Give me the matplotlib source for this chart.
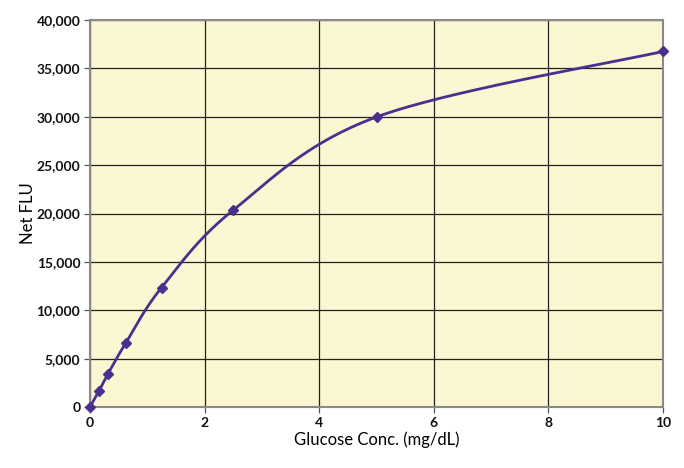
import matplotlib
matplotlib.use("Agg")
import matplotlib.pyplot as plt
import numpy as np

conc = [0, 0.156, 0.3125, 0.625, 1.25, 2.5, 5, 10]
flu = [0, 1650, 3420, 6620, 12350, 20350, 29980, 36750]
xticks = [0, 2, 4, 6, 8, 10]
yticks = [0, 5000, 10000, 15000, 20000, 25000, 30000, 35000, 40000]

plt.rcParams['font.family'] = ['Lato', 'DejaVu Sans']

fig = plt.figure(figsize=(6.84, 4.68), dpi=100)
ax = fig.add_axes([90/684, 61/468, 573/684, 387/468])
ax.set_facecolor('#FAF7D2')
ax.set_xlim(0, 10)
ax.set_ylim(0, 40000)

# Excel-style smoothed line (Catmull-Rom Bezier) in normalized space
px = np.array(conc) / 10.0
py = np.array(flu) / 40000.0
n = len(px)
cx, cy = [], []
for i in range(n - 1):
    p0 = (px[max(i-1, 0)], py[max(i-1, 0)])
    p1 = (px[i], py[i])
    p2 = (px[i+1], py[i+1])
    p3 = (px[min(i+2, n-1)], py[min(i+2, n-1)])
    c1 = (p1[0] + (p2[0]-p0[0])/6, p1[1] + (p2[1]-p0[1])/6)
    c2 = (p2[0] - (p3[0]-p1[0])/6, p2[1] - (p3[1]-p1[1])/6)
    t = np.linspace(0, 1, 40)
    bx = (1-t)**3*p1[0] + 3*(1-t)**2*t*c1[0] + 3*(1-t)*t**2*c2[0] + t**3*p2[0]
    by = (1-t)**3*p1[1] + 3*(1-t)**2*t*c1[1] + 3*(1-t)*t**2*c2[1] + t**3*p2[1]
    cx.extend(bx); cy.extend(by)
ax.plot(np.array(cx)*10, np.array(cy)*40000, color='#4B2F8E', lw=2, zorder=3, clip_on=False)
ax.plot(conc, flu, linestyle='none', marker='D', ms=5, color='#4B2F8E', zorder=4, clip_on=False)

ax.set_xticks(xticks)
ax.set_yticks(yticks)
ax.set_yticklabels([f"{v:,}" for v in yticks])
ax.grid(True, color='#222222', lw=0.9)
ax.set_axisbelow(True)
for s in ax.spines.values():
    s.set_color('#8a8a8a')
    s.set_linewidth(1.5)
ax.tick_params(length=4, width=0.9, color='#555555', labelsize=10, pad=3, labelcolor='#111111')
for lbl in ax.get_xticklabels() + ax.get_yticklabels():
    lbl.set_fontweight('bold')
ax.set_xlabel('Glucose Conc. (mg/dL)', fontsize=12, labelpad=2)
ax.set_ylabel('Net FLU', fontsize=12, labelpad=0)

fig.savefig('out.png', dpi=100)
